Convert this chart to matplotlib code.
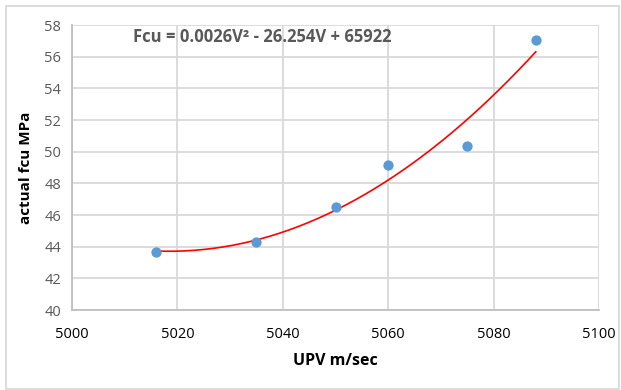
import numpy as np
import matplotlib.pyplot as plt
from matplotlib.patches import Rectangle

# UPV readings (m/sec) and measured cube strength (MPa)
upv = [5016, 5035, 5050, 5060, 5075, 5088]
fcu = [43.65, 44.3, 46.5, 49.15, 50.35, 57.05]

x_ticks = [5000, 5020, 5040, 5060, 5080, 5100]
y_ticks = [40, 42, 44, 46, 48, 50, 52, 54, 56, 58]

plt.rcParams['font.family'] = ['Open Sans', 'DejaVu Sans']

fig = plt.figure(figsize=(6.21, 3.90), dpi=100)
ax = fig.add_axes([72 / 621, 1 - 310 / 390, (599 - 72) / 621, (310 - 25) / 390])

# second order trendline through the points
coef = np.polyfit(upv, fcu, 2)
vv = np.linspace(min(upv), max(upv), 200)
ax.plot(vv, np.polyval(coef, vv), color='#ff0000', lw=1.2, zorder=3)
ax.scatter(upv, fcu, s=55, color='#5b9bd5', zorder=4, linewidths=0)

ax.set_xlim(5000, 5100)
ax.set_ylim(40, 58)
ax.set_xticks(x_ticks)
ax.set_yticks(y_ticks)
ax.grid(True, color='#d9d9d9', lw=1.3)
ax.set_axisbelow(True)
for side in ['top', 'right']:
    ax.spines[side].set_visible(False)
for side in ['left', 'bottom']:
    ax.spines[side].set_color('#bfbfbf')
    ax.spines[side].set_linewidth(1.3)
ax.tick_params(length=0, pad=8)
ax.tick_params(axis='y', labelsize=10.5, labelcolor='#595959')
ax.tick_params(axis='x', labelsize=10.5, labelcolor='#000000', pad=12)

ax.set_xlabel('UPV m/sec', fontsize=11.5, fontweight='bold', labelpad=8)
ax.set_ylabel('actual fcu MPa', fontsize=11, fontweight='bold', labelpad=8)

ax.text(5011.5, 57.25, 'Fcu = 0.0026V² - 26.254V + 65922', fontsize=12,
        fontweight='bold', color='#595959', va='center', ha='left')

# chart area border
fig.patches.append(Rectangle((6 / 621, 1 / 390), 613 / 621, 383 / 390,
                             transform=fig.transFigure, fill=False,
                             edgecolor='#d9d9d9', lw=1.3))

fig.savefig('out.png', dpi=100)
